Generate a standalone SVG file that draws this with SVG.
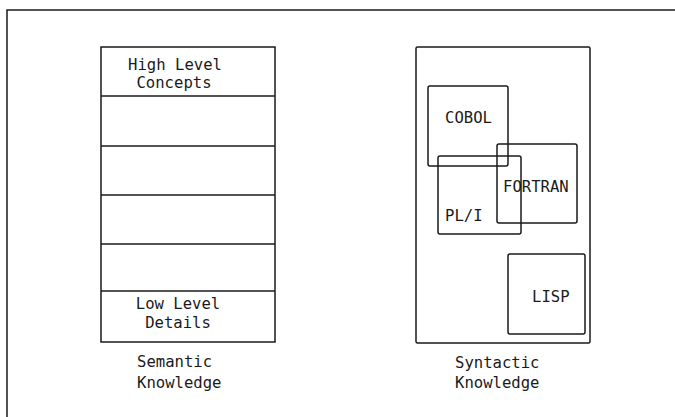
<svg xmlns="http://www.w3.org/2000/svg" width="675" height="417" viewBox="0 0 675 417">
<style>
.ln{stroke:#1a1a1a;stroke-width:1.5;fill:none}
.bx{stroke:#1a1a1a;stroke-width:1.5;fill:none}
text{font-family:"DejaVu Sans Mono","Liberation Mono",monospace;font-size:15.6px;fill:#1a1a1a}
.c{text-anchor:middle}
</style>
<rect width="675" height="417" fill="#ffffff"/>
<g id="frame">
<path class="ln" d="M7,417 V10 H675"/>
</g>
<g id="semantic-stack">
<rect class="bx" x="101" y="47" width="174" height="295"/>
<line class="ln" x1="101" y1="96" x2="275" y2="96"/>
<line class="ln" x1="101" y1="146" x2="275" y2="146"/>
<line class="ln" x1="101" y1="195" x2="275" y2="195"/>
<line class="ln" x1="101" y1="244" x2="275" y2="244"/>
<line class="ln" x1="101" y1="291" x2="275" y2="291"/>
<text class="c" x="175" y="70">High Level</text>
<text class="c" x="174" y="87.5">Concepts</text>
<text class="c" x="178" y="309">Low Level</text>
<text class="c" x="178" y="328">Details</text>
</g>
<g id="semantic-label">
<text x="137" y="367">Semantic</text>
<text x="137" y="388">Knowledge</text>
</g>
<g id="syntactic-box">
<rect class="bx" x="416" y="47" width="174" height="296" rx="1.5"/>
</g>
<g id="cobol">
<rect class="bx" x="428" y="86" width="80" height="80" rx="2"/>
<text x="445" y="123">COBOL</text>
</g>
<g id="pli">
<rect class="bx" x="438" y="156" width="83" height="78" rx="2"/>
<text x="445" y="221">PL/I</text>
</g>
<g id="fortran">
<rect class="bx" x="497" y="144" width="80" height="79" rx="2"/>
<text x="503" y="192">FORTRAN</text>
</g>
<g id="lisp">
<rect class="bx" x="508" y="254" width="77" height="80" rx="2"/>
<text x="532" y="302">LISP</text>
</g>
<g id="syntactic-label">
<text x="455" y="368">Syntactic</text>
<text x="455" y="388">Knowledge</text>
</g>
<g id="connectors"/>
</svg>
